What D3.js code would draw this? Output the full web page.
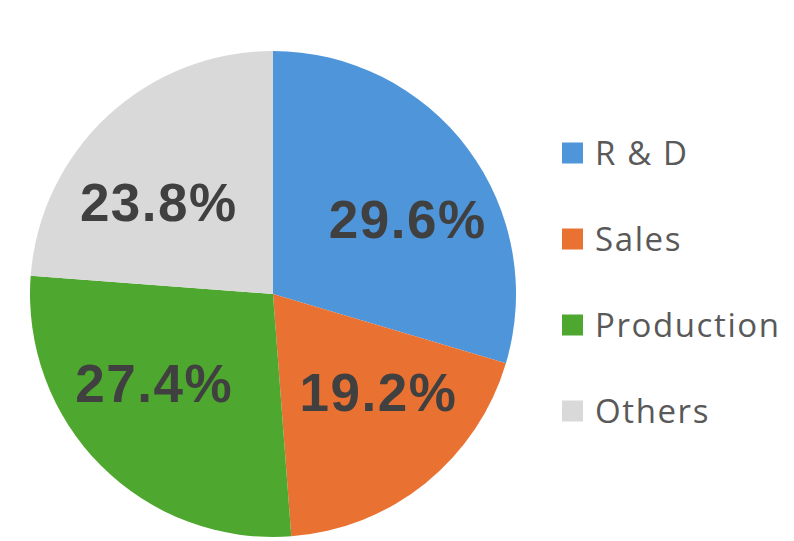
<!DOCTYPE html>
<html>
<head>
<meta charset="utf-8">
<script src="https://cdn.jsdelivr.net/npm/d3@7"></script>
<style>
  body { margin: 0; background: #fff; }
</style>
</head>
<body>
<svg id="chart" width="794" height="541"></svg>
<script>
// departments and their share (percent)
let categories = ["R & D", "Sales", "Production", "Others"];
let shares = [29.6, 19.2, 27.4, 23.8];
let colors = ["#4e95d9", "#e97132", "#4ea72e", "#d9d9d9"];

const width = 794, height = 541;
const cx = 273, cy = 294, radius = 243;

let svg = d3.select("#chart");

let table = categories.map((c, i) => ({name: c, value: shares[i], color: colors[i]}));

let pie = d3.pie()
    .value(d => d.value)
    .sort(null);

let arc = d3.arc()
    .innerRadius(0)
    .outerRadius(radius);

// labels sit a bit inside, pushed towards the horizontal like excel does
let labelArc = d3.arc()
    .innerRadius(150)
    .outerRadius(150);

let g = svg.append("g")
    .attr("transform", "translate(" + cx + "," + cy + ")");

let slices = pie(table);

g.selectAll("path")
    .data(slices)
    .enter()
    .append("path")
      .attr("d", arc)
      .attr("fill", d => d.data.color);

g.selectAll("text.lbl")
    .data(slices)
    .enter()
    .append("text")
      .attr("class", "lbl")
      .attr("x", d => labelArc.centroid(d)[0] * 1.12)
      .attr("y", d => labelArc.centroid(d)[1] * 0.84)
      .attr("dy", "0.36em")
      .attr("text-anchor", "middle")
      .style("font-family", "'Liberation Sans', Arial, sans-serif")
      .style("font-weight", "bold")
      .style("font-size", "53px")
      .style("letter-spacing", "1.5px")
      .style("fill", "#404040")
      .text(d => d.data.value.toFixed(1) + "%");

// legend
let y = d3.scalePoint()
    .domain(categories)
    .range([153, 411]);

let legend = svg.append("g");

legend.selectAll("rect")
    .data(table)
    .enter()
    .append("rect")
      .attr("x", 562)
      .attr("y", d => y(d.name) - 10.5)
      .attr("width", 21)
      .attr("height", 21)
      .attr("fill", d => d.color);

legend.selectAll("text")
    .data(table)
    .enter()
    .append("text")
      .attr("x", 595)
      .attr("y", d => y(d.name) + 11.5)
      .style("font-family", "'Open Sans', sans-serif")
      .style("font-size", "33px")
      .style("letter-spacing", "1.6px")
      .style("fill", "#595959")
      .text(d => d.name);
</script>
</body>
</html>
